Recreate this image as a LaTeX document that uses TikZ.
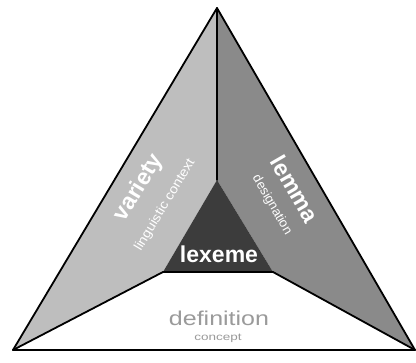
\documentclass[tikz,border=0pt]{standalone}
\usepackage{fontspec}
\setmainfont{Liberation Sans}
\usepackage{tikz}
\definecolor{varietygray}{HTML}{BEBEBE}
\definecolor{lemmagray}{HTML}{8A8A8A}
\definecolor{lexemegray}{HTML}{3C3C3C}
\definecolor{defink}{HTML}{9A9A9A}
\tikzset{
  triangle diagram/.style={
    x=1pt,
    y=-1pt,
    line cap=round,
    line join=round
  },
  facetedge/.style={
    draw=black,
    line width=1.8pt
  },
  headword/.style={
    font=\fontsize{23}{23}\selectfont\bfseries,
    text=white,
    inner sep=0pt
  },
  subword/.style={
    font=\fontsize{13}{13}\selectfont,
    text=white,
    inner sep=0pt
  },
  greyword/.style={
    text=defink,
    inner sep=0pt
  }
}

\begin{document}
\begin{tikzpicture}[triangle diagram]
\useasboundingbox (0,0) rectangle (416,363);
% outer and inner corners
\coordinate (apex) at (217,8);
\coordinate (left) at (13,350);
\coordinate (right) at (415,350);
\coordinate (inapex) at (217,180);
\coordinate (inleft) at (163,272);
\coordinate (inright) at (273,272);

% facets
\fill[varietygray] (apex) -- (inapex) -- (inleft) -- (left) -- cycle;
\fill[lemmagray] (apex) -- (right) -- (inright) -- (inapex) -- cycle;
\fill[lexemegray] (inapex) -- (inright) -- (inleft) -- cycle;
\fill[white] (inleft) -- (inright) -- (right) -- (left) -- cycle;

% edges
\draw[facetedge] (apex) -- (left) -- (right) -- cycle;
\draw[facetedge] (apex) -- (inapex);
\draw[facetedge] (inleft) -- (left);
\draw[facetedge] (inright) -- (right);
\draw[facetedge] (inleft) -- (inright);

% labels
\node[headword, rotate=59] (variety) at (139,188) {variety};
\node[subword, rotate=59, xscale=1.1] (varietysub) at (165,205) {linguistic context};
\node[headword, rotate=-60] (lemma) at (295,189) {lemma};
\node[subword, rotate=-60] (lemmasub) at (272,205) {designation};
\node[headword] (lexeme) at (219,254) {lexeme};
\node[greyword, font=\fontsize{20}{20}\selectfont, xscale=1.25] (definition) at (219,318) {definition};
\node[greyword, font=\fontsize{10}{10}\selectfont, xscale=1.35] (concept) at (218,338) {concept};
\end{tikzpicture}
\end{document}
